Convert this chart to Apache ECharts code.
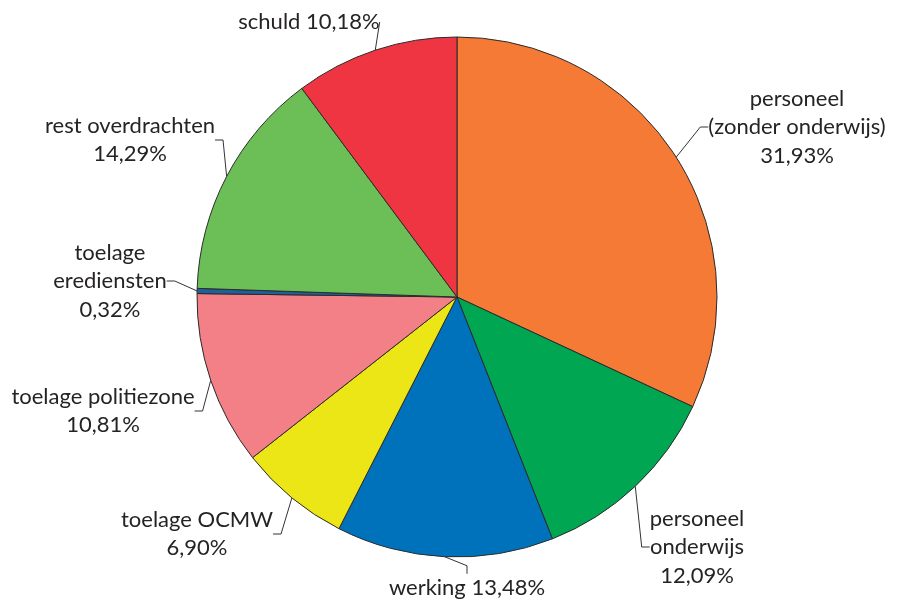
<!DOCTYPE html>
<html><head><meta charset="utf-8">
<script src="https://cdn.jsdelivr.net/npm/echarts@6/dist/echarts.min.js"></script>
<style>html,body{margin:0;padding:0;background:#fff}#c{width:899px;height:604px}</style>
</head><body><div id="c"></div>
<script>
const categories = ['personeel\n(zonder onderwijs)', 'personeel\nonderwijs', 'werking', 'toelage OCMW', 'toelage politiezone', 'toelage\nerediensten', 'rest overdrachten', 'schuld'];
const values = [31.93, 12.09, 13.48, 6.90, 10.81, 0.32, 14.29, 10.18];
const inlinePct = [false, false, true, false, false, false, false, true];

const colors = ['#F47A35', '#00A651', '#0072BC', '#ECE617', '#F37F87', '#1F5F9A', '#6CBE57', '#EE3541'];
// label centre positions (layout styling)
const labelPos = [[797,127],[697,547],[467,588],[197,534],[103,411],[110,281],[130,140],[309,22]];

const chart = echarts.init(document.getElementById('c'));
const fmt = v => v.toFixed(2).replace('.', ',') + '%';
chart.setOption({
  animation: false,
  series: [{
    type: 'pie',
    center: [457, 297],
    radius: 260,
    startAngle: 90,
    clockwise: true,
    avoidLabelOverlap: false,
    itemStyle: { borderColor: '#2b2b2b', borderWidth: 1 },
    label: {
      show: true,
      position: 'outside',
      fontFamily: 'Lato',
      fontSize: 22,
      lineHeight: 28.5,
      color: '#262324',
      align: 'center',
      formatter: p => p.name + (inlinePct[p.dataIndex] ? ' ' : '\n') + fmt(p.value)
    },
    labelLine: { show: true, length: 15, length2: 8, lineStyle: { color: '#333', width: 1 } },
    labelLayout: p => ({ x: labelPos[p.dataIndex][0], y: labelPos[p.dataIndex][1], align: 'center', verticalAlign: 'middle' }),
    data: categories.map((c, i) => ({ name: c, value: values[i], itemStyle: { color: colors[i] } }))
  }]
});
</script></body></html>
